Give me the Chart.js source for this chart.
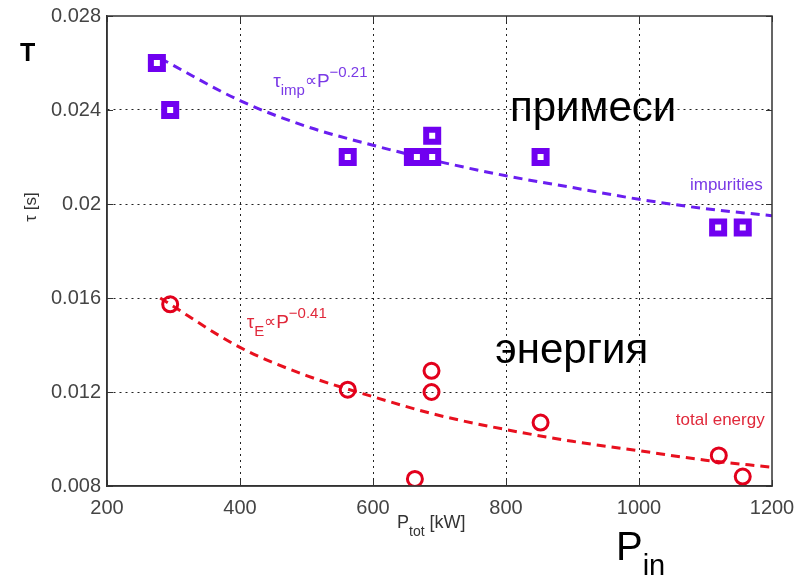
<!DOCTYPE html>
<html>
<head>
<meta charset="utf-8">
<script src="https://cdn.jsdelivr.net/npm/chart.js@4.4.1/dist/chart.umd.min.js"></script>
<style>
  html, body { margin: 0; padding: 0; background: #fff; }
  #wrap { width: 797px; height: 576px; }
</style>
</head>
<body>
<div id="wrap"><canvas id="tauChart" width="797" height="576"></canvas></div>
<script>
const FONT = '"Liberation Sans", Arial, sans-serif';

// axis ticks
const xTicks = [200, 400, 600, 800, 1000, 1200];
const xTickLabels = ['200', '400', '600', '800', '1000', '1200'];
const yTicks = [0.008, 0.012, 0.016, 0.02, 0.024, 0.028];
const yTickLabels = ['0.008', '0.012', '0.016', '0.02', '0.024', '0.028'];

// impurity confinement time vs input power
const impP   = [275, 295, 562, 660, 666, 689, 689, 852, 1119, 1156];
const impTau = [0.0260, 0.0240, 0.0220, 0.0220, 0.0220, 0.0229, 0.0220, 0.0220, 0.0190, 0.0190];

// energy confinement time vs input power
const enP   = [295, 562, 663, 688, 688, 852, 1120, 1156];
const enTau = [0.01573, 0.0121, 0.0083, 0.0129, 0.0120, 0.0107, 0.0093, 0.0084];

// fitted scaling curves (dashed)
const fitP   = [280, 400, 500, 600, 700, 800, 900, 1000, 1100, 1200];
const impFit = [0.0262, 0.0244, 0.0233, 0.0225, 0.0218, 0.0212, 0.0207, 0.0202, 0.0198, 0.0195];
const enFit  = [0.0160, 0.0139, 0.0127, 0.0118, 0.0110, 0.0104, 0.0099, 0.0095, 0.0091, 0.0088];

const PURPLE = '#7000f0';
const PURPLE_TXT = '#7a3ae6';
const RED = '#e2001c';
const RED_TXT = '#e0283a';

const pts = (xs, ys) => xs.map((x, i) => ({ x: x, y: ys[i] }));

// draw a run of text pieces with sub/superscripts
function drawRuns(ctx, x, y, runs, color) {
  ctx.fillStyle = color;
  ctx.textAlign = 'left';
  ctx.textBaseline = 'alphabetic';
  runs.forEach(r => {
    ctx.font = r[1] + 'px ' + FONT;
    ctx.fillText(r[0], x, y + r[2]);
    x += ctx.measureText(r[0]).width;
  });
}

const decorations = {
  id: 'decorations',
  afterDraw(chart) {
    const ctx = chart.ctx;
    const a = chart.chartArea;
    const xs = chart.scales.x, ys = chart.scales.y;
    ctx.save();

    // box around plot area + inward ticks
    ctx.strokeStyle = '#333';
    ctx.lineWidth = 1.5;
    ctx.strokeRect(a.left, a.top, a.right - a.left, a.bottom - a.top);
    ctx.lineWidth = 1;
    ctx.beginPath();
    yTicks.forEach(v => {
      const py = Math.round(ys.getPixelForValue(v)) + 0.5;
      ctx.moveTo(a.left, py); ctx.lineTo(a.left + 6, py);
      ctx.moveTo(a.right, py); ctx.lineTo(a.right - 6, py);
    });
    xTicks.forEach(v => {
      const px = Math.round(xs.getPixelForValue(v)) + 0.5;
      ctx.moveTo(px, a.bottom); ctx.lineTo(px, a.bottom - 6);
      ctx.moveTo(px, a.top); ctx.lineTo(px, a.top + 6);
    });
    ctx.stroke();

    // curve annotations
    drawRuns(ctx, xs.getPixelForValue(450), ys.getPixelForValue(0.02497),
      [['τ', 19, 0], ['imp', 15, 8], ['∝', 17, -1], ['P', 19, 0], ['−0.21', 15, -10]], PURPLE_TXT);
    drawRuns(ctx, xs.getPixelForValue(410), ys.getPixelForValue(0.01471),
      [['τ', 19, 0], ['E', 15, 8], ['∝', 17, -1], ['P', 19, 0], ['−0.41', 15, -10]], RED_TXT);

    ctx.font = '17px ' + FONT;
    ctx.textAlign = 'right';
    ctx.fillStyle = PURPLE_TXT;
    ctx.fillText('impurities', xs.getPixelForValue(1186), ys.getPixelForValue(0.02058));
    ctx.fillStyle = RED_TXT;
    ctx.fillText('total energy', xs.getPixelForValue(1189), ys.getPixelForValue(0.01058));

    // large russian labels
    ctx.font = '42px ' + FONT;
    ctx.textAlign = 'left';
    ctx.fillStyle = '#000';
    ctx.fillText('примеси', xs.getPixelForValue(806), ys.getPixelForValue(0.02352));
    ctx.fillText('энергия', xs.getPixelForValue(784), ys.getPixelForValue(0.01322));

    // big T on the left
    ctx.font = 'bold 25px ' + FONT;
    ctx.fillText('T', 20, 61);

    // y axis title
    ctx.save();
    ctx.translate(36, 207);
    ctx.rotate(-Math.PI / 2);
    ctx.textAlign = 'center';
    ctx.fillStyle = '#333';
    ctx.font = '17px ' + FONT;
    ctx.fillText('τ [s]', 0, 0);
    ctx.restore();

    // x axis title
    drawRuns(ctx, 397, 528, [['P', 18, 0], ['tot', 14, 8], [' [kW]', 18, 0]], '#333');

    // big P_in
    drawRuns(ctx, 616, 560, [['P', 40, 0], ['in', 29, 15]], '#000');

    ctx.restore();
  }
};

const ctx = document.getElementById('tauChart').getContext('2d');
const chart = new Chart(ctx, {
  type: 'scatter',
  data: {
    datasets: [
      {
        label: 'impurities',
        data: pts(impP, impTau),
        pointStyle: 'rect',
        pointRadius: 8.5,
        borderWidth: 6,
        borderColor: PURPLE,
        backgroundColor: '#fff',
        order: 0
      },
      {
        label: 'total energy',
        data: pts(enP, enTau),
        pointStyle: 'circle',
        pointRadius: 7.5,
        borderWidth: 3,
        borderColor: RED,
        backgroundColor: 'rgba(0,0,0,0)',
        order: 0
      },
      {
        label: 'impurity fit',
        data: pts(fitP, impFit),
        showLine: true,
        pointRadius: 0,
        borderColor: '#6a1ef0',
        borderWidth: 3,
        borderDash: [9, 6],
        cubicInterpolationMode: 'monotone',
        order: 1
      },
      {
        label: 'energy fit',
        data: pts(fitP, enFit),
        showLine: true,
        pointRadius: 0,
        borderColor: '#e8101e',
        borderWidth: 3,
        borderDash: [9, 6],
        cubicInterpolationMode: 'monotone',
        order: 1
      }
    ]
  },
  options: {
    responsive: false,
    animation: false,
    layout: { padding: { top: 16, right: 25, left: 0, bottom: 0 } },
    plugins: {
      legend: { display: false },
      tooltip: { enabled: false }
    },
    scales: {
      x: {
        type: 'linear',
        min: 200,
        max: 1200,
        afterBuildTicks: s => { s.ticks = xTicks.map(v => ({ value: v })); },
        afterFit: s => { s.height = 90; s.paddingLeft = 0; s.paddingRight = 0; },
        border: { display: true, color: '#333', width: 1.5, dash: [2, 4] },
        grid: {
          drawTicks: false,
          lineWidth: 1,
          color: c => (c.index === 0 || c.index === xTicks.length - 1) ? 'rgba(0,0,0,0)' : '#222'
        },
        ticks: {
          padding: 10,
          color: '#444',
          maxRotation: 0,
          font: { size: 20, family: FONT },
          callback: (v, i) => xTickLabels[i]
        }
      },
      y: {
        type: 'linear',
        min: 0.008,
        max: 0.028,
        afterBuildTicks: s => { s.ticks = yTicks.map(v => ({ value: v })); },
        afterFit: s => { s.width = 107; s.paddingTop = 0; s.paddingBottom = 0; },
        border: { display: true, color: '#333', width: 1.5, dash: [2, 4] },
        grid: {
          drawTicks: false,
          lineWidth: 1,
          color: c => (c.index === 0 || c.index === yTicks.length - 1) ? 'rgba(0,0,0,0)' : '#222'
        },
        ticks: {
          padding: 6,
          color: '#444',
          font: { size: 20, family: FONT },
          callback: (v, i) => yTickLabels[i]
        }
      }
    }
  },
  plugins: [decorations]
});
</script>
</body>
</html>
